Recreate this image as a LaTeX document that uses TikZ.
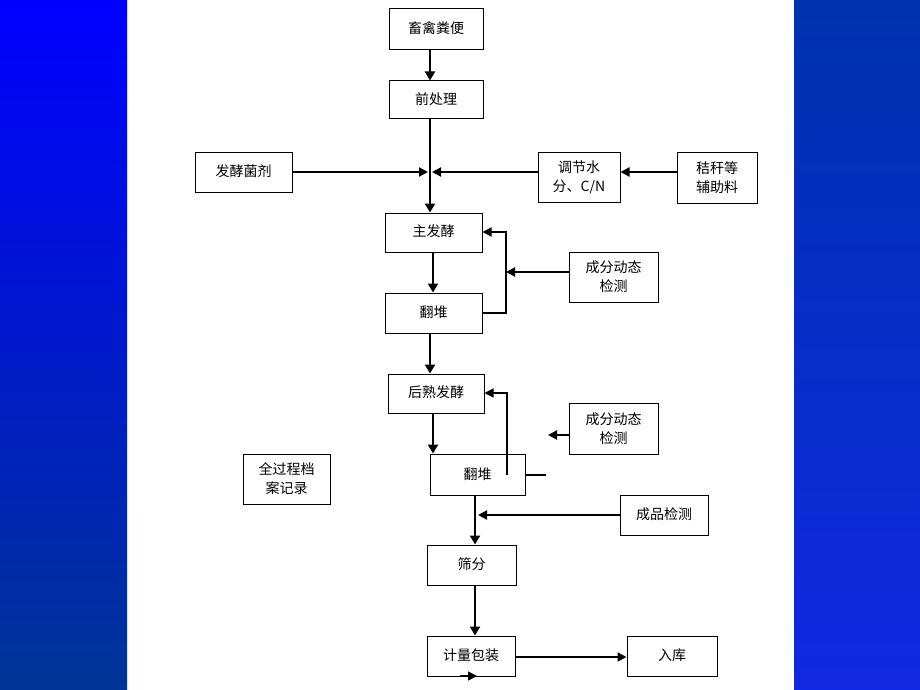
\documentclass[tikz,border=0pt]{standalone}
\usepackage{fontspec}
\setmainfont{Noto Sans CJK SC}
\usetikzlibrary{arrows.meta}
\definecolor{bandtopL}{RGB}{0,0,255}
\definecolor{bandbotL}{RGB}{0,52,150}
\definecolor{bandtopR}{RGB}{0,50,175}
\definecolor{bandbotR}{RGB}{15,40,225}
\tikzset{
  box/.style={draw=black, line width=1pt, inner sep=0pt, align=center,
    font=\fontsize{14}{19}\selectfont},
  flow/.style={line width=2.8pt, -{Triangle[length=9pt,width=10pt]}},
  side/.style={line width=2pt, -{Triangle[length=9pt,width=9pt]}},
  thin/.style={line width=1.4pt},
  thinarr/.style={line width=1.4pt, -{Triangle[length=9pt,width=9pt]}}
}
\newcommand{\up}[1]{\raisebox{3pt}{#1}}
\begin{document}
\begin{tikzpicture}[x=1pt,y=-1pt]
\useasboundingbox (0,0) rectangle (920,690);
\fill[white] (0,0) rectangle (920,690);
\shade[top color=bandtopL, bottom color=bandbotL] (0,0) rectangle (127,690);
\shade[top color=bandtopR, bottom color=bandbotR] (794,0) rectangle (920,690);

% boxes
\node[box, minimum width=94pt, minimum height=41pt] (a) at (436,29.5) {\up{畜禽粪便}};
\node[box, minimum width=94pt, minimum height=38pt] (b) at (436,100) {\up{前处理}};
\node[box, minimum width=97pt, minimum height=40pt] (c) at (243.5,172) {\up{发酵菌剂}};
\node[box, minimum width=82pt, minimum height=50pt] (d) at (579,177) {调节水\\分、C/N};
\node[box, minimum width=80pt, minimum height=51pt] (e) at (717,177.5) {秸秆等\\辅助料};
\node[box, minimum width=97pt, minimum height=39pt] (f) at (433.5,232.5) {\up{主发酵}};
\node[box, minimum width=97pt, minimum height=40pt] (g) at (433.5,313) {\up{翻堆}};
\node[box, minimum width=89pt, minimum height=50pt] (h) at (613.5,277) {成分动态\\检测};
\node[box, minimum width=96pt, minimum height=39pt] (i) at (436,393.5) {\up{后熟发酵}};
\node[box, minimum width=95pt, minimum height=41pt] (j) at (477.5,474.5) {翻堆};
\node[box, minimum width=89pt, minimum height=51pt] (k) at (613.5,428.5) {成分动态\\检测};
\node[box, minimum width=87pt, minimum height=50pt] (l) at (286.5,479) {全过程档\\案记录};
\node[box, minimum width=88pt, minimum height=40pt] (m) at (664,515) {\up{成品检测}};
\node[box, minimum width=89pt, minimum height=40pt] (n) at (471.5,565) {\up{筛分}};
\node[box, minimum width=88pt, minimum height=40pt] (o) at (471,656) {\up{计量包装}};
\node[box, minimum width=90pt, minimum height=40pt] (p) at (672,656) {\up{入库}};

% helper coordinates
\coordinate (x430) at (430,0);
\coordinate (x433) at (433,0);
\coordinate (x475) at (475,0);
\coordinate (y172) at (0,172);
\coordinate (jL) at (428,172);
\coordinate (jR) at (432,172);
\coordinate (fb1a) at (506,313);
\coordinate (fb1b) at (506,232);
\coordinate (fb1c) at (506,272);
\coordinate (fb2a) at (507,475);
\coordinate (fb2b) at (507,393);
\coordinate (stub) at (546,475);
\coordinate (k2) at (548,435);
\coordinate (mtip) at (478,515);

% main flow
\draw[flow] (a.south -| x430) -- (b.north -| x430);
\draw[flow] (b.south -| x430) -- (f.north -| x430);
\draw[side] (c.east |- y172) -- (jL);
\draw[side] (d.west |- y172) -- (jR);
\draw[side] (e.west |- y172) -- (d.east |- y172);
\draw[flow] (f.south -| x433) -- (g.north -| x433);
\draw[thinarr] (g.east |- fb1a) -- (fb1a) -- (fb1b) -- (f.east |- fb1b);
\draw[side] (h.west |- fb1c) -- (fb1c);
\draw[flow] (g.south -| x430) -- (i.north -| x430);
\draw[flow] (i.south -| x433) -- (j.north -| x433);
\draw[thinarr] (fb2a) -- (fb2b) -- (i.east |- fb2b);
\draw[thin] (j.east |- stub) -- (stub);
\draw[side] (k.west |- k2) -- (k2);
\draw[flow] (j.south -| x475) -- (n.north -| x475);
\draw[side] (m.west |- mtip) -- (mtip);
\draw[flow] (n.south -| x475) -- (o.north -| x475);
\draw[side] (o.east |- 0,657) -- (p.west |- 0,657);
\coordinate (sa) at (460,676);
\coordinate (sb) at (477,676);
\draw[thinarr] (sa) -- (sb);
\end{tikzpicture}
\end{document}
